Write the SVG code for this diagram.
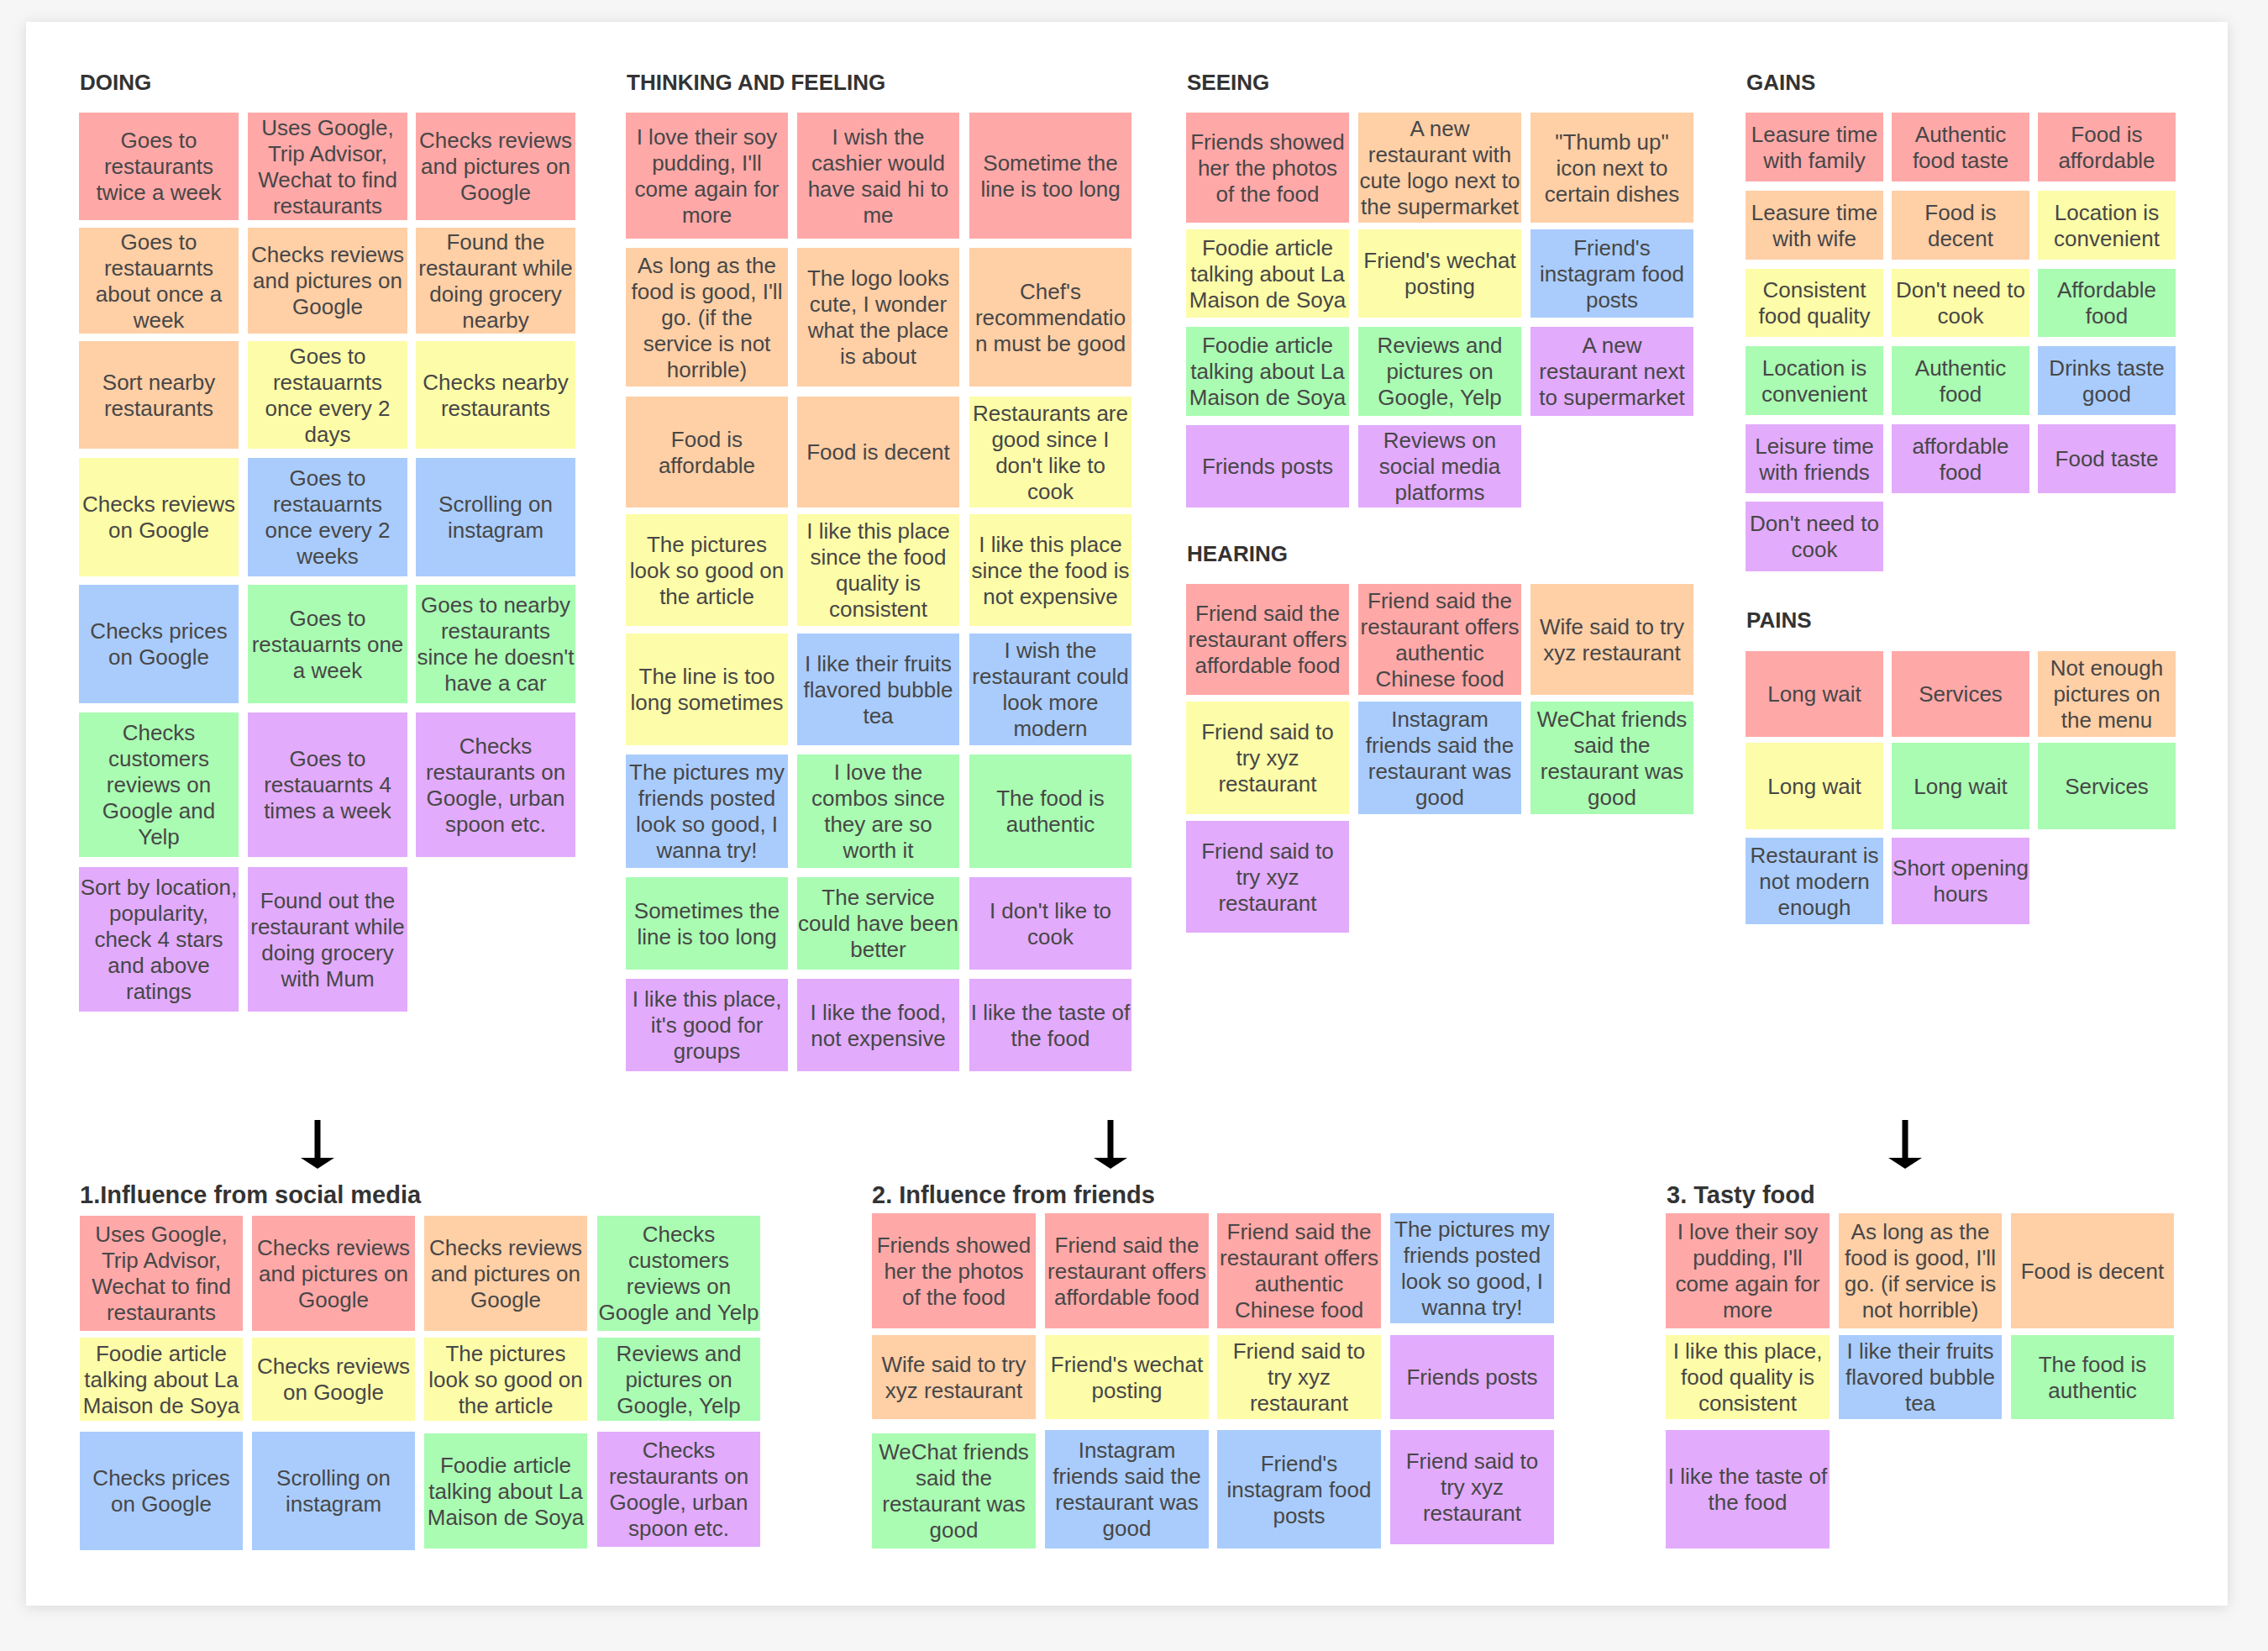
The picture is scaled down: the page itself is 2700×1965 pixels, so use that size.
<svg xmlns="http://www.w3.org/2000/svg" width="2700" height="1965" viewBox="0 0 2700 1965">
<defs>
<filter id="sh" x="-5%" y="-5%" width="110%" height="110%"><feDropShadow dx="0" dy="2" stdDeviation="8" flood-color="#000" flood-opacity="0.12"/></filter>
<style>
.t{font-family:"Liberation Sans",Arial,Helvetica,sans-serif;font-size:26px;fill:#474747;text-anchor:middle}
.h{font-family:"Liberation Sans",Arial,Helvetica,sans-serif;font-size:26px;font-weight:bold;fill:#333}
.h2{font-family:"Liberation Sans",Arial,Helvetica,sans-serif;font-size:29px;font-weight:bold;fill:#333}
.pk{fill:#FFA8A8}.or{fill:#FFCFA6}.ye{fill:#FDFCA8}.bl{fill:#A9CCFD}.gr{fill:#A9FCB2}.pu{fill:#E2ABFC}
</style>
</defs>
<rect width="2700" height="1965" fill="#f6f6f6"/>
<rect x="31" y="26" width="2621" height="1885" fill="#fff" filter="url(#sh)"/>

<g id="headers">
<text class="h" x="95" y="107">DOING</text>
<text class="h" x="746" y="107">THINKING AND FEELING</text>
<text class="h" x="1413" y="107">SEEING</text>
<text class="h" x="1413" y="668">HEARING</text>
<text class="h" x="2079" y="107">GAINS</text>
<text class="h" x="2079" y="747">PAINS</text>
<text class="h2" x="95" y="1432">1.Influence from social media</text>
<text class="h2" x="1038" y="1432">2. Influence from friends</text>
<text class="h2" x="1984" y="1432">3. Tasty food</text>
</g>

<!-- DOING -->
<g id="doing-1"><rect class="pk" x="94" y="134" width="190" height="128"/><text class="t" y="176"><tspan x="189">Goes to</tspan><tspan x="189" dy="31">restaurants</tspan><tspan x="189" dy="31">twice a week</tspan></text></g>
<g id="doing-2"><rect class="pk" x="295" y="134" width="190" height="128"/><text class="t" y="161"><tspan x="390">Uses Google,</tspan><tspan x="390" dy="31">Trip Advisor,</tspan><tspan x="390" dy="31">Wechat to find</tspan><tspan x="390" dy="31">restaurants</tspan></text></g>
<g id="doing-3"><rect class="pk" x="495" y="134" width="190" height="128"/><text class="t" y="176"><tspan x="590">Checks reviews</tspan><tspan x="590" dy="31">and pictures on</tspan><tspan x="590" dy="31">Google</tspan></text></g>
<g id="doing-4"><rect class="or" x="94" y="271" width="190" height="126"/><text class="t" y="297"><tspan x="189">Goes to</tspan><tspan x="189" dy="31">restauarnts</tspan><tspan x="189" dy="31">about once a</tspan><tspan x="189" dy="31">week</tspan></text></g>
<g id="doing-5"><rect class="or" x="295" y="271" width="190" height="126"/><text class="t" y="312"><tspan x="390">Checks reviews</tspan><tspan x="390" dy="31">and pictures on</tspan><tspan x="390" dy="31">Google</tspan></text></g>
<g id="doing-6"><rect class="or" x="495" y="271" width="190" height="126"/><text class="t" y="297"><tspan x="590">Found the</tspan><tspan x="590" dy="31">restaurant while</tspan><tspan x="590" dy="31">doing grocery</tspan><tspan x="590" dy="31">nearby</tspan></text></g>
<g id="doing-7"><rect class="or" x="94" y="406" width="190" height="128"/><text class="t" y="464"><tspan x="189">Sort nearby</tspan><tspan x="189" dy="31">restaurants</tspan></text></g>
<g id="doing-8"><rect class="ye" x="295" y="406" width="190" height="128"/><text class="t" y="433"><tspan x="390">Goes to</tspan><tspan x="390" dy="31">restauarnts</tspan><tspan x="390" dy="31">once every 2</tspan><tspan x="390" dy="31">days</tspan></text></g>
<g id="doing-9"><rect class="ye" x="495" y="406" width="190" height="128"/><text class="t" y="464"><tspan x="590">Checks nearby</tspan><tspan x="590" dy="31">restaurants</tspan></text></g>
<g id="doing-10"><rect class="ye" x="94" y="545" width="190" height="141"/><text class="t" y="609"><tspan x="189">Checks reviews</tspan><tspan x="189" dy="31">on Google</tspan></text></g>
<g id="doing-11"><rect class="bl" x="295" y="545" width="190" height="141"/><text class="t" y="578"><tspan x="390">Goes to</tspan><tspan x="390" dy="31">restauarnts</tspan><tspan x="390" dy="31">once every 2</tspan><tspan x="390" dy="31">weeks</tspan></text></g>
<g id="doing-12"><rect class="bl" x="495" y="545" width="190" height="141"/><text class="t" y="609"><tspan x="590">Scrolling on</tspan><tspan x="590" dy="31">instagram</tspan></text></g>
<g id="doing-13"><rect class="bl" x="94" y="696" width="190" height="141"/><text class="t" y="760"><tspan x="189">Checks prices</tspan><tspan x="189" dy="31">on Google</tspan></text></g>
<g id="doing-14"><rect class="gr" x="295" y="696" width="190" height="141"/><text class="t" y="745"><tspan x="390">Goes to</tspan><tspan x="390" dy="31">restauarnts one</tspan><tspan x="390" dy="31">a week</tspan></text></g>
<g id="doing-15"><rect class="gr" x="495" y="696" width="190" height="141"/><text class="t" y="729"><tspan x="590">Goes to nearby</tspan><tspan x="590" dy="31">restaurants</tspan><tspan x="590" dy="31">since he doesn't</tspan><tspan x="590" dy="31">have a car</tspan></text></g>
<g id="doing-16"><rect class="gr" x="94" y="848" width="190" height="172"/><text class="t" y="881"><tspan x="189">Checks</tspan><tspan x="189" dy="31">customers</tspan><tspan x="189" dy="31">reviews on</tspan><tspan x="189" dy="31">Google and</tspan><tspan x="189" dy="31">Yelp</tspan></text></g>
<g id="doing-17"><rect class="pu" x="295" y="848" width="190" height="172"/><text class="t" y="912"><tspan x="390">Goes to</tspan><tspan x="390" dy="31">restauarnts 4</tspan><tspan x="390" dy="31">times a week</tspan></text></g>
<g id="doing-18"><rect class="pu" x="495" y="848" width="190" height="172"/><text class="t" y="897"><tspan x="590">Checks</tspan><tspan x="590" dy="31">restaurants on</tspan><tspan x="590" dy="31">Google, urban</tspan><tspan x="590" dy="31">spoon etc.</tspan></text></g>
<g id="doing-19"><rect class="pu" x="94" y="1032" width="190" height="172"/><text class="t" y="1065"><tspan x="189">Sort by location,</tspan><tspan x="189" dy="31">popularity,</tspan><tspan x="189" dy="31">check 4 stars</tspan><tspan x="189" dy="31">and above</tspan><tspan x="189" dy="31">ratings</tspan></text></g>
<g id="doing-20"><rect class="pu" x="295" y="1032" width="190" height="172"/><text class="t" y="1081"><tspan x="390">Found out the</tspan><tspan x="390" dy="31">restaurant while</tspan><tspan x="390" dy="31">doing grocery</tspan><tspan x="390" dy="31">with Mum</tspan></text></g>

<!-- THINKING AND FEELING -->
<g id="think-1"><rect class="pk" x="745" y="134" width="193" height="150"/><text class="t" y="172"><tspan x="841.5">I love their soy</tspan><tspan x="841.5" dy="31">pudding, I'll</tspan><tspan x="841.5" dy="31">come again for</tspan><tspan x="841.5" dy="31">more</tspan></text></g>
<g id="think-2"><rect class="pk" x="949" y="134" width="193" height="150"/><text class="t" y="172"><tspan x="1045.5">I wish the</tspan><tspan x="1045.5" dy="31">cashier would</tspan><tspan x="1045.5" dy="31">have said hi to</tspan><tspan x="1045.5" dy="31">me</tspan></text></g>
<g id="think-3"><rect class="pk" x="1154" y="134" width="193" height="150"/><text class="t" y="203"><tspan x="1250.5">Sometime the</tspan><tspan x="1250.5" dy="31">line is too long</tspan></text></g>
<g id="think-4"><rect class="or" x="745" y="295" width="193" height="165"/><text class="t" y="325"><tspan x="841.5">As long as the</tspan><tspan x="841.5" dy="31">food is good, I'll</tspan><tspan x="841.5" dy="31">go. (if the</tspan><tspan x="841.5" dy="31">service is not</tspan><tspan x="841.5" dy="31">horrible)</tspan></text></g>
<g id="think-5"><rect class="or" x="949" y="295" width="193" height="165"/><text class="t" y="340"><tspan x="1045.5">The logo looks</tspan><tspan x="1045.5" dy="31">cute, I wonder</tspan><tspan x="1045.5" dy="31">what the place</tspan><tspan x="1045.5" dy="31">is about</tspan></text></g>
<g id="think-6"><rect class="or" x="1154" y="295" width="193" height="165"/><text class="t" y="356"><tspan x="1250.5">Chef's</tspan><tspan x="1250.5" dy="31">recommendatio</tspan><tspan x="1250.5" dy="31">n must be good</tspan></text></g>
<g id="think-7"><rect class="or" x="745" y="472" width="193" height="132"/><text class="t" y="532"><tspan x="841.5">Food is</tspan><tspan x="841.5" dy="31">affordable</tspan></text></g>
<g id="think-8"><rect class="or" x="949" y="472" width="193" height="132"/><text class="t" y="547"><tspan x="1045.5">Food is decent</tspan></text></g>
<g id="think-9"><rect class="ye" x="1154" y="472" width="193" height="132"/><text class="t" y="501"><tspan x="1250.5">Restaurants are</tspan><tspan x="1250.5" dy="31">good since I</tspan><tspan x="1250.5" dy="31">don't like to</tspan><tspan x="1250.5" dy="31">cook</tspan></text></g>
<g id="think-10"><rect class="ye" x="745" y="612" width="193" height="133"/><text class="t" y="657"><tspan x="841.5">The pictures</tspan><tspan x="841.5" dy="31">look so good on</tspan><tspan x="841.5" dy="31">the article</tspan></text></g>
<g id="think-11"><rect class="ye" x="949" y="612" width="193" height="133"/><text class="t" y="641"><tspan x="1045.5">I like this place</tspan><tspan x="1045.5" dy="31">since the food</tspan><tspan x="1045.5" dy="31">quality is</tspan><tspan x="1045.5" dy="31">consistent</tspan></text></g>
<g id="think-12"><rect class="ye" x="1154" y="612" width="193" height="133"/><text class="t" y="657"><tspan x="1250.5">I like this place</tspan><tspan x="1250.5" dy="31">since the food is</tspan><tspan x="1250.5" dy="31">not expensive</tspan></text></g>
<g id="think-13"><rect class="ye" x="745" y="754" width="193" height="133"/><text class="t" y="814"><tspan x="841.5">The line is too</tspan><tspan x="841.5" dy="31">long sometimes</tspan></text></g>
<g id="think-14"><rect class="bl" x="949" y="754" width="193" height="133"/><text class="t" y="799"><tspan x="1045.5">I like their fruits</tspan><tspan x="1045.5" dy="31">flavored bubble</tspan><tspan x="1045.5" dy="31">tea</tspan></text></g>
<g id="think-15"><rect class="bl" x="1154" y="754" width="193" height="133"/><text class="t" y="783"><tspan x="1250.5">I wish the</tspan><tspan x="1250.5" dy="31">restaurant could</tspan><tspan x="1250.5" dy="31">look more</tspan><tspan x="1250.5" dy="31">modern</tspan></text></g>
<g id="think-16"><rect class="bl" x="745" y="898" width="193" height="135"/><text class="t" y="928"><tspan x="841.5">The pictures my</tspan><tspan x="841.5" dy="31">friends posted</tspan><tspan x="841.5" dy="31">look so good, I</tspan><tspan x="841.5" dy="31">wanna try!</tspan></text></g>
<g id="think-17"><rect class="gr" x="949" y="898" width="193" height="135"/><text class="t" y="928"><tspan x="1045.5">I love the</tspan><tspan x="1045.5" dy="31">combos since</tspan><tspan x="1045.5" dy="31">they are so</tspan><tspan x="1045.5" dy="31">worth it</tspan></text></g>
<g id="think-18"><rect class="gr" x="1154" y="898" width="193" height="135"/><text class="t" y="959"><tspan x="1250.5">The food is</tspan><tspan x="1250.5" dy="31">authentic</tspan></text></g>
<g id="think-19"><rect class="gr" x="745" y="1044" width="193" height="110"/><text class="t" y="1093"><tspan x="841.5">Sometimes the</tspan><tspan x="841.5" dy="31">line is too long</tspan></text></g>
<g id="think-20"><rect class="gr" x="949" y="1044" width="193" height="110"/><text class="t" y="1077"><tspan x="1045.5">The service</tspan><tspan x="1045.5" dy="31">could have been</tspan><tspan x="1045.5" dy="31">better</tspan></text></g>
<g id="think-21"><rect class="pu" x="1154" y="1044" width="193" height="110"/><text class="t" y="1093"><tspan x="1250.5">I don't like to</tspan><tspan x="1250.5" dy="31">cook</tspan></text></g>
<g id="think-22"><rect class="pu" x="745" y="1165" width="193" height="110"/><text class="t" y="1198"><tspan x="841.5">I like this place,</tspan><tspan x="841.5" dy="31">it's good for</tspan><tspan x="841.5" dy="31">groups</tspan></text></g>
<g id="think-23"><rect class="pu" x="949" y="1165" width="193" height="110"/><text class="t" y="1214"><tspan x="1045.5">I like the food,</tspan><tspan x="1045.5" dy="31">not expensive</tspan></text></g>
<g id="think-24"><rect class="pu" x="1154" y="1165" width="193" height="110"/><text class="t" y="1214"><tspan x="1250.5">I like the taste of</tspan><tspan x="1250.5" dy="31">the food</tspan></text></g>

<!-- SEEING -->
<g id="see-1"><rect class="pk" x="1412" y="134" width="194" height="131"/><text class="t" y="178"><tspan x="1509">Friends showed</tspan><tspan x="1509" dy="31">her the photos</tspan><tspan x="1509" dy="31">of the food</tspan></text></g>
<g id="see-2"><rect class="or" x="1617" y="134" width="194" height="131"/><text class="t" y="162"><tspan x="1714">A new</tspan><tspan x="1714" dy="31">restaurant with</tspan><tspan x="1714" dy="31">cute logo next to</tspan><tspan x="1714" dy="31">the supermarket</tspan></text></g>
<g id="see-3"><rect class="or" x="1822" y="134" width="194" height="131"/><text class="t" y="178"><tspan x="1919">"Thumb up"</tspan><tspan x="1919" dy="31">icon next to</tspan><tspan x="1919" dy="31">certain dishes</tspan></text></g>
<g id="see-4"><rect class="ye" x="1412" y="273" width="194" height="105"/><text class="t" y="304"><tspan x="1509">Foodie article</tspan><tspan x="1509" dy="31">talking about La</tspan><tspan x="1509" dy="31">Maison de Soya</tspan></text></g>
<g id="see-5"><rect class="ye" x="1617" y="273" width="194" height="105"/><text class="t" y="319"><tspan x="1714">Friend's wechat</tspan><tspan x="1714" dy="31">posting</tspan></text></g>
<g id="see-6"><rect class="bl" x="1822" y="273" width="194" height="105"/><text class="t" y="304"><tspan x="1919">Friend's</tspan><tspan x="1919" dy="31">instagram food</tspan><tspan x="1919" dy="31">posts</tspan></text></g>
<g id="see-7"><rect class="gr" x="1412" y="389" width="194" height="106"/><text class="t" y="420"><tspan x="1509">Foodie article</tspan><tspan x="1509" dy="31">talking about La</tspan><tspan x="1509" dy="31">Maison de Soya</tspan></text></g>
<g id="see-8"><rect class="gr" x="1617" y="389" width="194" height="106"/><text class="t" y="420"><tspan x="1714">Reviews and</tspan><tspan x="1714" dy="31">pictures on</tspan><tspan x="1714" dy="31">Google, Yelp</tspan></text></g>
<g id="see-9"><rect class="pu" x="1822" y="389" width="194" height="106"/><text class="t" y="420"><tspan x="1919">A new</tspan><tspan x="1919" dy="31">restaurant next</tspan><tspan x="1919" dy="31">to supermarket</tspan></text></g>
<g id="see-10"><rect class="pu" x="1412" y="506" width="194" height="98"/><text class="t" y="564"><tspan x="1509">Friends posts</tspan></text></g>
<g id="see-11"><rect class="pu" x="1617" y="506" width="194" height="98"/><text class="t" y="533"><tspan x="1714">Reviews on</tspan><tspan x="1714" dy="31">social media</tspan><tspan x="1714" dy="31">platforms</tspan></text></g>

<!-- HEARING -->
<g id="hear-1"><rect class="pk" x="1412" y="695" width="194" height="132"/><text class="t" y="739"><tspan x="1509">Friend said the</tspan><tspan x="1509" dy="31">restaurant offers</tspan><tspan x="1509" dy="31">affordable food</tspan></text></g>
<g id="hear-2"><rect class="pk" x="1617" y="695" width="194" height="132"/><text class="t" y="724"><tspan x="1714">Friend said the</tspan><tspan x="1714" dy="31">restaurant offers</tspan><tspan x="1714" dy="31">authentic</tspan><tspan x="1714" dy="31">Chinese food</tspan></text></g>
<g id="hear-3"><rect class="or" x="1822" y="695" width="194" height="132"/><text class="t" y="755"><tspan x="1919">Wife said to try</tspan><tspan x="1919" dy="31">xyz restaurant</tspan></text></g>
<g id="hear-4"><rect class="ye" x="1412" y="835" width="194" height="134"/><text class="t" y="880"><tspan x="1509">Friend said to</tspan><tspan x="1509" dy="31">try xyz</tspan><tspan x="1509" dy="31">restaurant</tspan></text></g>
<g id="hear-5"><rect class="bl" x="1617" y="835" width="194" height="134"/><text class="t" y="865"><tspan x="1714">Instagram</tspan><tspan x="1714" dy="31">friends said the</tspan><tspan x="1714" dy="31">restaurant was</tspan><tspan x="1714" dy="31">good</tspan></text></g>
<g id="hear-6"><rect class="gr" x="1822" y="835" width="194" height="134"/><text class="t" y="865"><tspan x="1919">WeChat friends</tspan><tspan x="1919" dy="31">said the</tspan><tspan x="1919" dy="31">restaurant was</tspan><tspan x="1919" dy="31">good</tspan></text></g>
<g id="hear-7"><rect class="pu" x="1412" y="977" width="194" height="133"/><text class="t" y="1022"><tspan x="1509">Friend said to</tspan><tspan x="1509" dy="31">try xyz</tspan><tspan x="1509" dy="31">restaurant</tspan></text></g>

<!-- GAINS -->
<g id="gain-1"><rect class="pk" x="2078" y="134" width="164" height="82"/><text class="t" y="169"><tspan x="2160">Leasure time</tspan><tspan x="2160" dy="31">with family</tspan></text></g>
<g id="gain-2"><rect class="pk" x="2252" y="134" width="164" height="82"/><text class="t" y="169"><tspan x="2334">Authentic</tspan><tspan x="2334" dy="31">food taste</tspan></text></g>
<g id="gain-3"><rect class="pk" x="2426" y="134" width="164" height="82"/><text class="t" y="169"><tspan x="2508">Food is</tspan><tspan x="2508" dy="31">affordable</tspan></text></g>
<g id="gain-4"><rect class="or" x="2078" y="227" width="164" height="82"/><text class="t" y="262"><tspan x="2160">Leasure time</tspan><tspan x="2160" dy="31">with wife</tspan></text></g>
<g id="gain-5"><rect class="or" x="2252" y="227" width="164" height="82"/><text class="t" y="262"><tspan x="2334">Food is</tspan><tspan x="2334" dy="31">decent</tspan></text></g>
<g id="gain-6"><rect class="ye" x="2426" y="227" width="164" height="82"/><text class="t" y="262"><tspan x="2508">Location is</tspan><tspan x="2508" dy="31">convenient</tspan></text></g>
<g id="gain-7"><rect class="ye" x="2078" y="320" width="164" height="81"/><text class="t" y="354"><tspan x="2160">Consistent</tspan><tspan x="2160" dy="31">food quality</tspan></text></g>
<g id="gain-8"><rect class="ye" x="2252" y="320" width="164" height="81"/><text class="t" y="354"><tspan x="2334">Don't need to</tspan><tspan x="2334" dy="31">cook</tspan></text></g>
<g id="gain-9"><rect class="gr" x="2426" y="320" width="164" height="81"/><text class="t" y="354"><tspan x="2508">Affordable</tspan><tspan x="2508" dy="31">food</tspan></text></g>
<g id="gain-10"><rect class="gr" x="2078" y="412" width="164" height="82"/><text class="t" y="447"><tspan x="2160">Location is</tspan><tspan x="2160" dy="31">convenient</tspan></text></g>
<g id="gain-11"><rect class="gr" x="2252" y="412" width="164" height="82"/><text class="t" y="447"><tspan x="2334">Authentic</tspan><tspan x="2334" dy="31">food</tspan></text></g>
<g id="gain-12"><rect class="bl" x="2426" y="412" width="164" height="82"/><text class="t" y="447"><tspan x="2508">Drinks taste</tspan><tspan x="2508" dy="31">good</tspan></text></g>
<g id="gain-13"><rect class="pu" x="2078" y="505" width="164" height="82"/><text class="t" y="540"><tspan x="2160">Leisure time</tspan><tspan x="2160" dy="31">with friends</tspan></text></g>
<g id="gain-14"><rect class="pu" x="2252" y="505" width="164" height="82"/><text class="t" y="540"><tspan x="2334">affordable</tspan><tspan x="2334" dy="31">food</tspan></text></g>
<g id="gain-15"><rect class="pu" x="2426" y="505" width="164" height="82"/><text class="t" y="555"><tspan x="2508">Food taste</tspan></text></g>
<g id="gain-16"><rect class="pu" x="2078" y="597" width="164" height="83"/><text class="t" y="632"><tspan x="2160">Don't need to</tspan><tspan x="2160" dy="31">cook</tspan></text></g>

<!-- PAINS -->
<g id="pain-1"><rect class="pk" x="2078" y="775" width="164" height="102"/><text class="t" y="835"><tspan x="2160">Long wait</tspan></text></g>
<g id="pain-2"><rect class="pk" x="2252" y="775" width="164" height="102"/><text class="t" y="835"><tspan x="2334">Services</tspan></text></g>
<g id="pain-3"><rect class="or" x="2426" y="775" width="164" height="102"/><text class="t" y="804"><tspan x="2508">Not enough</tspan><tspan x="2508" dy="31">pictures on</tspan><tspan x="2508" dy="31">the menu</tspan></text></g>
<g id="pain-4"><rect class="ye" x="2078" y="884" width="164" height="103"/><text class="t" y="945"><tspan x="2160">Long wait</tspan></text></g>
<g id="pain-5"><rect class="gr" x="2252" y="884" width="164" height="103"/><text class="t" y="945"><tspan x="2334">Long wait</tspan></text></g>
<g id="pain-6"><rect class="gr" x="2426" y="884" width="164" height="103"/><text class="t" y="945"><tspan x="2508">Services</tspan></text></g>
<g id="pain-7"><rect class="bl" x="2078" y="997" width="164" height="103"/><text class="t" y="1027"><tspan x="2160">Restaurant is</tspan><tspan x="2160" dy="31">not modern</tspan><tspan x="2160" dy="31">enough</tspan></text></g>
<g id="pain-8"><rect class="pu" x="2252" y="997" width="164" height="103"/><text class="t" y="1042"><tspan x="2334">Short opening</tspan><tspan x="2334" dy="31">hours</tspan></text></g>

<!-- CONNECTORS -->
<g id="connectors" fill="#000">
<rect x="374.5" y="1333" width="7" height="46"/><polygon points="358,1378 398,1378 378,1391"/>
<rect x="1318.5" y="1333" width="7" height="46"/><polygon points="1302,1378 1342,1378 1322,1391"/>
<rect x="2264.5" y="1333" width="7" height="46"/><polygon points="2248,1378 2288,1378 2268,1391"/>
</g>

<!-- 1. Influence from social media -->
<g id="social-1"><rect class="pk" x="95" y="1447" width="194" height="137"/><text class="t" y="1478"><tspan x="192">Uses Google,</tspan><tspan x="192" dy="31">Trip Advisor,</tspan><tspan x="192" dy="31">Wechat to find</tspan><tspan x="192" dy="31">restaurants</tspan></text></g>
<g id="social-2"><rect class="pk" x="300" y="1447" width="194" height="137"/><text class="t" y="1494"><tspan x="397">Checks reviews</tspan><tspan x="397" dy="31">and pictures on</tspan><tspan x="397" dy="31">Google</tspan></text></g>
<g id="social-3"><rect class="or" x="505" y="1447" width="194" height="137"/><text class="t" y="1494"><tspan x="602">Checks reviews</tspan><tspan x="602" dy="31">and pictures on</tspan><tspan x="602" dy="31">Google</tspan></text></g>
<g id="social-4"><rect class="gr" x="711" y="1447" width="194" height="137"/><text class="t" y="1478"><tspan x="808">Checks</tspan><tspan x="808" dy="31">customers</tspan><tspan x="808" dy="31">reviews on</tspan><tspan x="808" dy="31">Google and Yelp</tspan></text></g>
<g id="social-5"><rect class="ye" x="95" y="1592" width="194" height="99"/><text class="t" y="1620"><tspan x="192">Foodie article</tspan><tspan x="192" dy="31">talking about La</tspan><tspan x="192" dy="31">Maison de Soya</tspan></text></g>
<g id="social-6"><rect class="ye" x="300" y="1592" width="194" height="99"/><text class="t" y="1635"><tspan x="397">Checks reviews</tspan><tspan x="397" dy="31">on Google</tspan></text></g>
<g id="social-7"><rect class="ye" x="505" y="1592" width="194" height="99"/><text class="t" y="1620"><tspan x="602">The pictures</tspan><tspan x="602" dy="31">look so good on</tspan><tspan x="602" dy="31">the article</tspan></text></g>
<g id="social-8"><rect class="gr" x="711" y="1592" width="194" height="99"/><text class="t" y="1620"><tspan x="808">Reviews and</tspan><tspan x="808" dy="31">pictures on</tspan><tspan x="808" dy="31">Google, Yelp</tspan></text></g>
<g id="social-9"><rect class="bl" x="95" y="1704" width="194" height="141"/><text class="t" y="1768"><tspan x="192">Checks prices</tspan><tspan x="192" dy="31">on Google</tspan></text></g>
<g id="social-10"><rect class="bl" x="300" y="1704" width="194" height="141"/><text class="t" y="1768"><tspan x="397">Scrolling on</tspan><tspan x="397" dy="31">instagram</tspan></text></g>
<g id="social-11"><rect class="gr" x="505" y="1706" width="194" height="137"/><text class="t" y="1753"><tspan x="602">Foodie article</tspan><tspan x="602" dy="31">talking about La</tspan><tspan x="602" dy="31">Maison de Soya</tspan></text></g>
<g id="social-12"><rect class="pu" x="711" y="1704" width="194" height="137"/><text class="t" y="1735"><tspan x="808">Checks</tspan><tspan x="808" dy="31">restaurants on</tspan><tspan x="808" dy="31">Google, urban</tspan><tspan x="808" dy="31">spoon etc.</tspan></text></g>

<!-- 2. Influence from friends -->
<g id="friends-1"><rect class="pk" x="1038" y="1444" width="195" height="137"/><text class="t" y="1491"><tspan x="1135.5">Friends showed</tspan><tspan x="1135.5" dy="31">her the photos</tspan><tspan x="1135.5" dy="31">of the food</tspan></text></g>
<g id="friends-2"><rect class="pk" x="1244" y="1444" width="195" height="137"/><text class="t" y="1491"><tspan x="1341.5">Friend said the</tspan><tspan x="1341.5" dy="31">restaurant offers</tspan><tspan x="1341.5" dy="31">affordable food</tspan></text></g>
<g id="friends-3"><rect class="pk" x="1449" y="1444" width="195" height="137"/><text class="t" y="1475"><tspan x="1546.5">Friend said the</tspan><tspan x="1546.5" dy="31">restaurant offers</tspan><tspan x="1546.5" dy="31">authentic</tspan><tspan x="1546.5" dy="31">Chinese food</tspan></text></g>
<g id="friends-4"><rect class="bl" x="1655" y="1444" width="195" height="131"/><text class="t" y="1472"><tspan x="1752.5">The pictures my</tspan><tspan x="1752.5" dy="31">friends posted</tspan><tspan x="1752.5" dy="31">look so good, I</tspan><tspan x="1752.5" dy="31">wanna try!</tspan></text></g>
<g id="friends-5"><rect class="or" x="1038" y="1589" width="195" height="100"/><text class="t" y="1633"><tspan x="1135.5">Wife said to try</tspan><tspan x="1135.5" dy="31">xyz restaurant</tspan></text></g>
<g id="friends-6"><rect class="ye" x="1244" y="1589" width="195" height="100"/><text class="t" y="1633"><tspan x="1341.5">Friend's wechat</tspan><tspan x="1341.5" dy="31">posting</tspan></text></g>
<g id="friends-7"><rect class="ye" x="1449" y="1589" width="195" height="100"/><text class="t" y="1617"><tspan x="1546.5">Friend said to</tspan><tspan x="1546.5" dy="31">try xyz</tspan><tspan x="1546.5" dy="31">restaurant</tspan></text></g>
<g id="friends-8"><rect class="pu" x="1655" y="1589" width="195" height="100"/><text class="t" y="1648"><tspan x="1752.5">Friends posts</tspan></text></g>
<g id="friends-9"><rect class="gr" x="1038" y="1706" width="195" height="137"/><text class="t" y="1737"><tspan x="1135.5">WeChat friends</tspan><tspan x="1135.5" dy="31">said the</tspan><tspan x="1135.5" dy="31">restaurant was</tspan><tspan x="1135.5" dy="31">good</tspan></text></g>
<g id="friends-10"><rect class="bl" x="1244" y="1702" width="195" height="141"/><text class="t" y="1735"><tspan x="1341.5">Instagram</tspan><tspan x="1341.5" dy="31">friends said the</tspan><tspan x="1341.5" dy="31">restaurant was</tspan><tspan x="1341.5" dy="31">good</tspan></text></g>
<g id="friends-11"><rect class="bl" x="1449" y="1702" width="195" height="141"/><text class="t" y="1751"><tspan x="1546.5">Friend's</tspan><tspan x="1546.5" dy="31">instagram food</tspan><tspan x="1546.5" dy="31">posts</tspan></text></g>
<g id="friends-12"><rect class="pu" x="1655" y="1702" width="195" height="136"/><text class="t" y="1748"><tspan x="1752.5">Friend said to</tspan><tspan x="1752.5" dy="31">try xyz</tspan><tspan x="1752.5" dy="31">restaurant</tspan></text></g>

<!-- 3. Tasty food -->
<g id="tasty-1"><rect class="pk" x="1983" y="1444" width="195" height="137"/><text class="t" y="1475"><tspan x="2080.5">I love their soy</tspan><tspan x="2080.5" dy="31">pudding, I'll</tspan><tspan x="2080.5" dy="31">come again for</tspan><tspan x="2080.5" dy="31">more</tspan></text></g>
<g id="tasty-2"><rect class="or" x="2189" y="1444" width="194" height="137"/><text class="t" y="1475"><tspan x="2286">As long as the</tspan><tspan x="2286" dy="31">food is good, I'll</tspan><tspan x="2286" dy="31">go. (if service is</tspan><tspan x="2286" dy="31">not horrible)</tspan></text></g>
<g id="tasty-3"><rect class="or" x="2394" y="1444" width="194" height="137"/><text class="t" y="1522"><tspan x="2491">Food is decent</tspan></text></g>
<g id="tasty-4"><rect class="ye" x="1983" y="1589" width="195" height="100"/><text class="t" y="1617"><tspan x="2080.5">I like this place,</tspan><tspan x="2080.5" dy="31">food quality is</tspan><tspan x="2080.5" dy="31">consistent</tspan></text></g>
<g id="tasty-5"><rect class="bl" x="2189" y="1589" width="194" height="100"/><text class="t" y="1617"><tspan x="2286">I like their fruits</tspan><tspan x="2286" dy="31">flavored bubble</tspan><tspan x="2286" dy="31">tea</tspan></text></g>
<g id="tasty-6"><rect class="gr" x="2394" y="1589" width="194" height="100"/><text class="t" y="1633"><tspan x="2491">The food is</tspan><tspan x="2491" dy="31">authentic</tspan></text></g>
<g id="tasty-7"><rect class="pu" x="1983" y="1702" width="195" height="141"/><text class="t" y="1766"><tspan x="2080.5">I like the taste of</tspan><tspan x="2080.5" dy="31">the food</tspan></text></g>
</svg>
